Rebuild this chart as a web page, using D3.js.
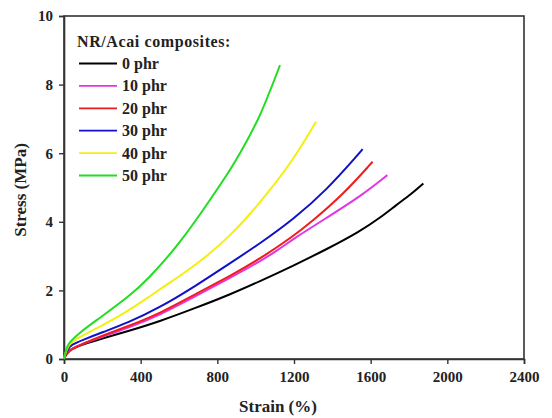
<!DOCTYPE html>
<html>
<head>
<meta charset="utf-8">
<script src="https://cdn.jsdelivr.net/npm/d3@7"></script>
<style>
  html, body { margin: 0; padding: 0; background: #fff; }
  svg { display: block; }
  text { font-family: "Liberation Serif", "Times New Roman", serif; font-weight: bold; fill: #222; }
</style>
</head>
<body>
<svg id="chart" width="552" height="418"></svg>
<script>
// Stress–strain curves of NR/Acai composites, [strain %, stress MPa]
const series = ["0 phr", "10 phr", "20 phr", "30 phr", "40 phr", "50 phr"];
const colors = ["#000000", "#e236e2", "#ee1c1c", "#1010c8", "#f5ee10", "#22dd22"];

const phr0 = [[0,0],[8,0.12],[20,0.22],[40,0.3],[100,0.43],[200,0.6],[327,0.8],[501,1.1],[692,1.5],[866,1.88],[1023,2.27],[1196,2.72],[1371,3.2],[1544,3.72],[1650,4.12],[1736,4.5],[1810,4.8],[1875,5.12]];
const phr10 = [[0,0],[8,0.1],[20,0.2],[40,0.3],[100,0.45],[200,0.65],[327,0.89],[501,1.28],[692,1.85],[866,2.36],[1023,2.85],[1110,3.15],[1196,3.5],[1371,4.12],[1544,4.73],[1687,5.36]];
const phr20 = [[0,0],[8,0.09],[20,0.18],[40,0.28],[100,0.45],[200,0.68],[327,0.94],[501,1.33],[692,1.91],[866,2.42],[1023,2.92],[1196,3.58],[1283,3.96],[1457,4.8],[1610,5.75]];
const phr30 = [[0,0],[8,0.15],[20,0.3],[40,0.42],[100,0.56],[200,0.78],[327,1.04],[501,1.5],[692,2.15],[866,2.79],[1023,3.37],[1196,4.07],[1371,4.93],[1544,6.02],[1558,6.12]];
const phr40 = [[0,0],[8,0.18],[20,0.35],[40,0.5],[100,0.7],[200,0.97],[327,1.38],[431,1.76],[518,2.1],[692,2.75],[866,3.57],[1023,4.55],[1197,5.8],[1315,6.92]];
const phr50 = [[0,0],[8,0.22],[18,0.38],[31,0.5],[83,0.78],[188,1.2],[344,1.85],[431,2.28],[605,3.37],[762,4.64],[866,5.5],[927,6.08],[1023,7.05],[1127,8.57]];
const curves = [phr0, phr10, phr20, phr30, phr40, phr50];

const xTicks = [0, 400, 800, 1200, 1600, 2000, 2400];
const yTicks = [0, 2, 4, 6, 8, 10];
const legendTitle = "NR/Acai composites:";

const svg = d3.select("#chart");
const plotLeft = 64, plotRight = 524, plotTop = 16, plotBottom = 359;

const x = d3.scaleLinear().domain([0, 2400]).range([plotLeft, plotRight]);
const y = d3.scaleLinear().domain([0, 10]).range([plotBottom, plotTop]);

// frame
svg.append("rect")
  .attr("x", plotLeft).attr("y", plotTop)
  .attr("width", plotRight - plotLeft).attr("height", plotBottom - plotTop)
  .attr("fill", "none").attr("stroke", "#333").attr("stroke-width", 1.6);

// axes
const xAxis = svg.append("g").attr("transform", `translate(0,${plotBottom})`)
  .call(d3.axisBottom(x).tickValues(xTicks).tickSize(5).tickPadding(7).tickFormat(d3.format("d")));
const yAxis = svg.append("g").attr("transform", `translate(${plotLeft},0)`)
  .call(d3.axisLeft(y).tickValues(yTicks).tickSize(5).tickPadding(6).tickFormat(d3.format("d")));
[xAxis, yAxis].forEach(g => {
  g.select(".domain").attr("stroke", "#333").attr("stroke-width", 1.6);
  g.selectAll(".tick line").attr("stroke", "#333").attr("stroke-width", 1.4);
  g.selectAll(".tick text")
    .attr("font-family", "Liberation Serif, Times New Roman, serif")
    .attr("font-weight", "bold").attr("font-size", 15).attr("fill", "#222");
});

// axis titles
svg.append("text")
  .attr("x", 278).attr("y", 412)
  .attr("text-anchor", "middle").attr("font-size", 17)
  .text("Strain (%)");
svg.append("text")
  .attr("transform", "translate(26,190) rotate(-90)")
  .attr("text-anchor", "middle").attr("font-size", 17)
  .text("Stress (MPa)");

// curves
const line = d3.line().x(d => x(d[0])).y(d => y(d[1])).curve(d3.curveBasis);
svg.append("g").selectAll("path")
  .data(curves)
  .join("path")
  .attr("d", line)
  .attr("fill", "none")
  .attr("stroke", (d, i) => colors[i])
  .attr("stroke-width", 2)
  .attr("stroke-linejoin", "round");

// legend
const legend = svg.append("g");
legend.append("text")
  .attr("x", 77).attr("y", 47)
  .attr("font-size", 16)
  .attr("letter-spacing", 0.6)
  .text(legendTitle);
const rows = legend.selectAll("g.row")
  .data(series)
  .join("g")
  .attr("class", "row")
  .attr("transform", (d, i) => `translate(0,${63.5 + i * 22.4})`);
rows.append("line")
  .attr("x1", 79).attr("x2", 117)
  .attr("y1", 0).attr("y2", 0)
  .attr("stroke", (d, i) => colors[i])
  .attr("stroke-width", 1.8);
rows.append("text")
  .attr("x", 122).attr("y", 5.5)
  .attr("font-size", 16)
  .text(d => d);
</script>
</body>
</html>
